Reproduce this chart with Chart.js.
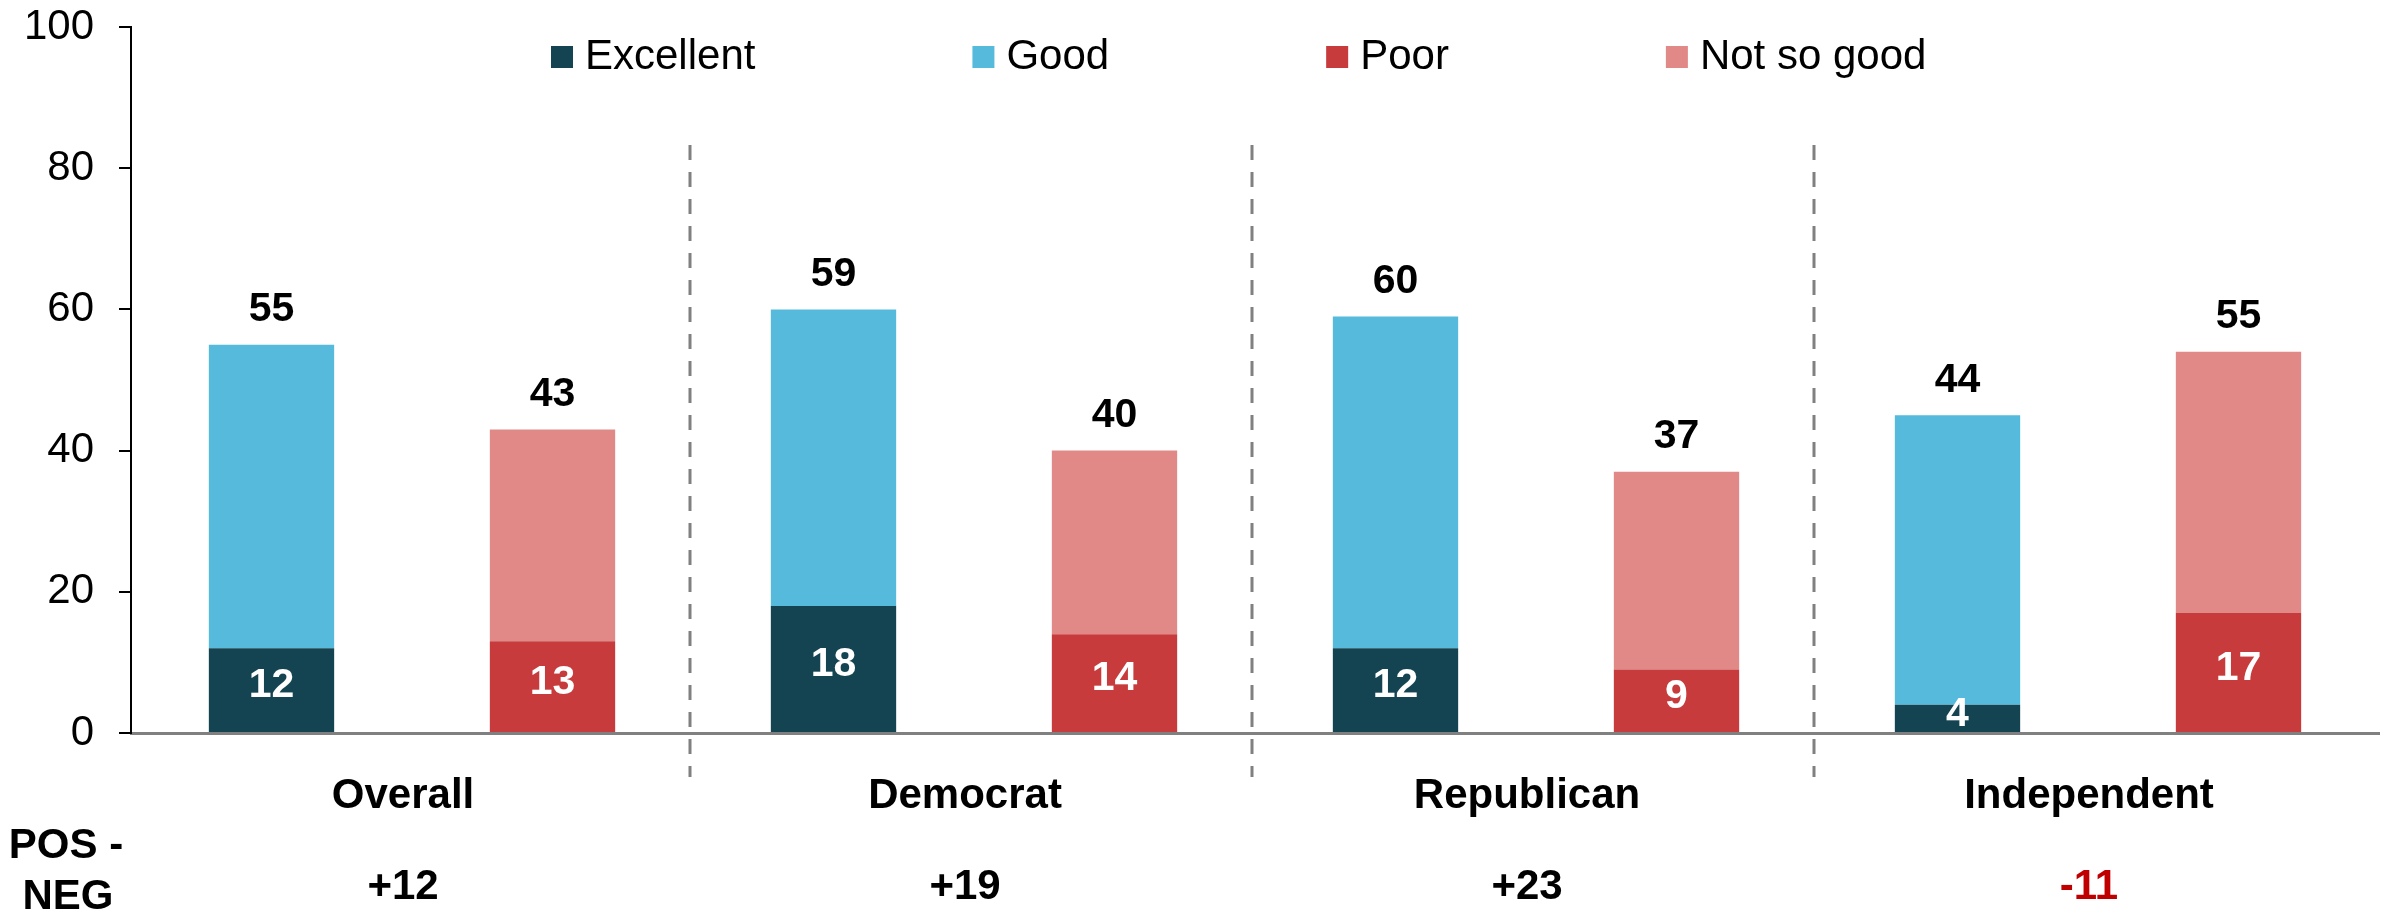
<!DOCTYPE html>
<html>
<head>
<meta charset="utf-8">
<title>Excellent / Good vs Poor / Not so good</title>
<script src="https://cdn.jsdelivr.net/npm/chart.js@4"></script>
<style>
  html, body { margin: 0; padding: 0; background: #fff; }
  #myChart { display: block; }
</style>
</head>
<body>
<canvas id="myChart" width="2389" height="916"></canvas>
<script>
// data
const groups = ["Overall", "Democrat", "Republican", "Independent"];
const excellent = [12, 18, 12, 4];
const good = [43, 42, 47, 41];
const poor = [13, 14, 9, 17];
const notSoGood = [30, 26, 28, 37];
// printed totals above the bars (as shown, not always equal to the bar height)
const posTotals = [55, 59, 60, 44];
const negTotals = [43, 40, 37, 55];
const posNeg = ["+12", "+19", "+23", "-11"];
const yTicks = [0, 20, 40, 60, 80, 100];

const FONT = "'Liberation Sans', Arial, Helvetica, sans-serif";
const COLORS = {
  excellent: "#144452",
  good: "#55BADC",
  poor: "#C83B3C",
  notSoGood: "#E08987",
};

// legend drawn inside the plot area, like the original
const legendPlugin = {
  id: "insideLegend",
  afterDraw(chart) {
    const ctx = chart.ctx;
    ctx.save();
    ctx.font = "42px " + FONT;
    ctx.textBaseline = "middle";
    ctx.textAlign = "left";
    let x = 551;
    const y = 57;
    chart.data.datasets.forEach((ds) => {
      ctx.fillStyle = ds.backgroundColor;
      ctx.fillRect(x, y - 11, 22, 22);
      ctx.fillStyle = "#000";
      ctx.fillText(ds.label, x + 34, y);
      x += 34 + ctx.measureText(ds.label).width + 217;
    });
    ctx.restore();
  },
};

// dashed separators between the groups
const separatorPlugin = {
  id: "separators",
  afterDatasetsDraw(chart) {
    const ctx = chart.ctx;
    const xs = chart.scales.x;
    ctx.save();
    ctx.strokeStyle = "#808080";
    ctx.lineWidth = 3;
    ctx.setLineDash([15, 12]);
    for (let i = 0; i < groups.length - 1; i++) {
      const mid = (xs.getPixelForValue(i) + xs.getPixelForValue(i + 1)) / 2 - 3;
      ctx.beginPath();
      ctx.moveTo(mid, 145);
      ctx.lineTo(mid, 777);
      ctx.stroke();
    }
    ctx.restore();
  },
};

// value labels: white inside the dark segments, black totals on top
const valuePlugin = {
  id: "values",
  afterDatasetsDraw(chart) {
    const ctx = chart.ctx;
    ctx.save();
    ctx.textAlign = "center";
    ctx.textBaseline = "middle";
    ctx.font = "bold 41px " + FONT;

    [0, 2].forEach((dsIndex) => {
      const meta = chart.getDatasetMeta(dsIndex);
      const vals = chart.data.datasets[dsIndex].data;
      meta.data.forEach((bar, i) => {
        ctx.fillStyle = "#fff";
        ctx.fillText(String(vals[i]), bar.x, (bar.y + bar.base) / 2 - 4);
      });
    });

    const tops = [
      [1, posTotals],
      [3, negTotals],
    ];
    tops.forEach(([dsIndex, labels]) => {
      const meta = chart.getDatasetMeta(dsIndex);
      meta.data.forEach((bar, i) => {
        ctx.fillStyle = "#000";
        ctx.fillText(String(labels[i]), bar.x, bar.y - 35);
      });
    });
    ctx.restore();
  },
};

// POS - NEG row under the category labels
const netPlugin = {
  id: "netRow",
  afterDraw(chart) {
    const ctx = chart.ctx;
    const xs = chart.scales.x;
    ctx.save();
    ctx.font = "bold 42px " + FONT;
    ctx.textBaseline = "middle";
    ctx.textAlign = "center";
    ctx.fillStyle = "#000";
    ctx.fillText("POS -", 66, 846);
    ctx.fillText("NEG", 68, 897);
    posNeg.forEach((txt, i) => {
      ctx.fillStyle = txt.startsWith("-") ? "#C00000" : "#000";
      ctx.fillText(txt, xs.getPixelForValue(i) - 9, 887);
    });
    ctx.restore();
  },
};

const ctx = document.getElementById("myChart");
const myChart = new Chart(ctx, {
  type: "bar",
  data: {
    labels: groups,
    datasets: [
      { label: "Excellent", data: excellent, backgroundColor: COLORS.excellent, stack: "pos" },
      { label: "Good", data: good, backgroundColor: COLORS.good, stack: "pos" },
      { label: "Poor", data: poor, backgroundColor: COLORS.poor, stack: "neg" },
      { label: "Not so good", data: notSoGood, backgroundColor: COLORS.notSoGood, stack: "neg" },
    ],
  },
  options: {
    responsive: false,
    animation: false,
    devicePixelRatio: 1,
    layout: { padding: { left: 0, top: 27, right: 10, bottom: 0 } },
    datasets: {
      bar: { barPercentage: 0.446, categoryPercentage: 1.0, borderWidth: 0 },
    },
    plugins: {
      legend: { display: false },
      tooltip: { enabled: false },
    },
    scales: {
      x: {
        stacked: true,
        offset: true,
        grid: { display: false, drawTicks: false },
        border: { display: true, color: "#808080", width: 3 },
        ticks: {
          color: "#000",
          padding: 38,
          labelOffset: -9,
          font: { family: FONT, size: 42, weight: "bold" },
        },
        afterFit(scale) {
          scale.height = 183;
        },
      },
      y: {
        stacked: true,
        min: 0,
        max: 100,
        afterBuildTicks(scale) {
          scale.ticks = yTicks.map((v) => ({ value: v }));
        },
        grid: {
          display: true,
          drawOnChartArea: false,
          drawTicks: true,
          tickLength: 12,
          color: "#000",
          lineWidth: 2,
        },
        border: { display: true, color: "#000", width: 2 },
        ticks: {
          color: "#000",
          padding: 25,
          font: { family: FONT, size: 42 },
        },
        afterFit(scale) {
          scale.width = 131;
          // let the layout padding alone decide where 100 sits
          scale.paddingTop = 0;
        },
      },
    },
  },
  plugins: [separatorPlugin, valuePlugin, legendPlugin, netPlugin],
});
</script>
</body>
</html>
